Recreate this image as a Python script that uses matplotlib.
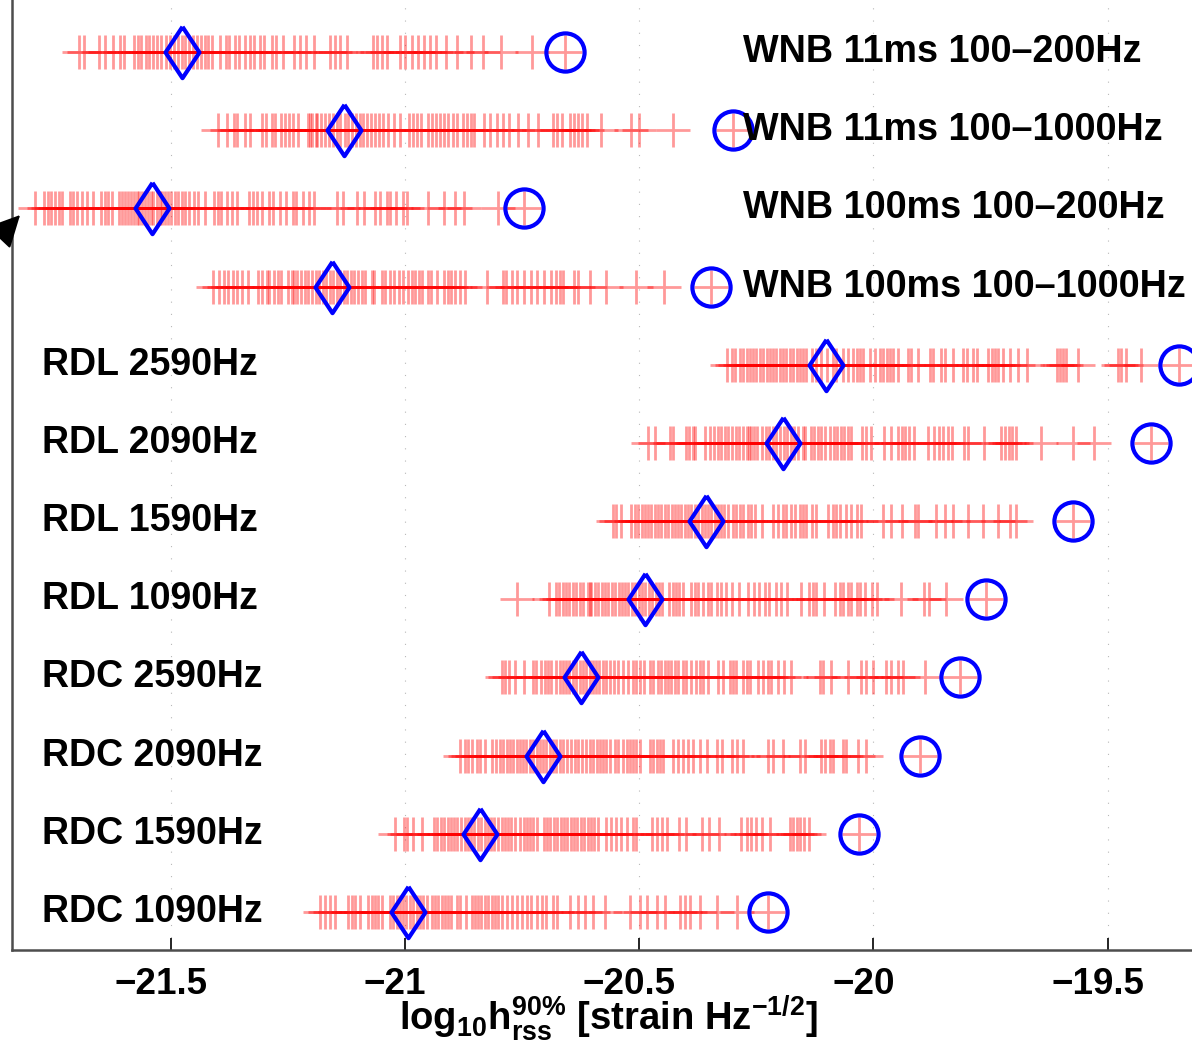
import numpy as np
import matplotlib
matplotlib.use("Agg")
import matplotlib.pyplot as plt
from matplotlib.transforms import ScaledTranslation

plt.rcParams['font.family'] = ['Liberation Sans', 'DejaVu Sans']
plt.rcParams['font.weight'] = 'bold'
plt.rcParams['mathtext.fontset'] = 'custom'
plt.rcParams['mathtext.rm'] = 'Liberation Sans:bold'
plt.rcParams['mathtext.it'] = 'Liberation Sans:bold'
plt.rcParams['mathtext.bf'] = 'Liberation Sans:bold'

# row labels, top to bottom
labels = ['WNB 11ms 100\u2013200Hz', 'WNB 11ms 100\u20131000Hz',
          'WNB 100ms 100\u2013200Hz', 'WNB 100ms 100\u20131000Hz',
          'RDL 2590Hz', 'RDL 2090Hz', 'RDL 1590Hz', 'RDL 1090Hz',
          'RDC 2590Hz', 'RDC 2090Hz', 'RDC 1590Hz', 'RDC 1090Hz']

# log10 hrss90 per trial (red + marks)
wnb11_200 = [-21.697, -21.686, -21.653, -21.641, -21.624, -21.608, -21.599, -21.579,
             -21.570, -21.563, -21.554, -21.547, -21.538, -21.530, -21.521, -21.510,
             -21.502, -21.494, -21.485, -21.477, -21.469, -21.461, -21.453, -21.445,
             -21.436, -21.427, -21.420, -21.411, -21.395, -21.383, -21.375, -21.363,
             -21.355, -21.342, -21.330, -21.322, -21.310, -21.302, -21.283, -21.276,
             -21.261, -21.236, -21.225, -21.212, -21.195, -21.161, -21.150, -21.138,
             -21.123, -21.069, -21.060, -21.049, -21.039, -21.011, -21.000, -20.985,
             -20.973, -20.960, -20.946, -20.934, -20.913, -20.890, -20.859, -20.834,
             -20.796, -20.729]
wnb11_1000 = [-21.399, -21.379, -21.366, -21.358, -21.342, -21.330, -21.305, -21.297,
              -21.285, -21.277, -21.264, -21.256, -21.248, -21.240, -21.228, -21.207,
              -21.203, -21.199, -21.191, -21.187, -21.179, -21.170, -21.162, -21.154,
              -21.146, -21.138, -21.129, -21.121, -21.113, -21.105, -21.097, -21.089,
              -21.081, -21.072, -21.064, -21.056, -21.048, -21.036, -21.023, -21.011,
              -20.991, -20.982, -20.974, -20.966, -20.950, -20.942, -20.934, -20.925,
              -20.917, -20.909, -20.897, -20.889, -20.876, -20.868, -20.860, -20.852,
              -20.832, -20.819, -20.803, -20.791, -20.778, -20.758, -20.737, -20.717,
              -20.684, -20.676, -20.664, -20.648, -20.639, -20.631, -20.623, -20.611,
              -20.582, -20.517, -20.501, -20.427]
wnb100_200 = [-21.789, -21.770, -21.762, -21.755, -21.747, -21.739, -21.732, -21.716,
              -21.709, -21.701, -21.690, -21.678, -21.667, -21.648, -21.640, -21.633,
              -21.625, -21.610, -21.604, -21.598, -21.591, -21.585, -21.579, -21.573,
              -21.567, -21.561, -21.555, -21.549, -21.543, -21.537, -21.530, -21.524,
              -21.518, -21.512, -21.506, -21.499, -21.492, -21.484, -21.476, -21.469,
              -21.461, -21.450, -21.442, -21.427, -21.408, -21.400, -21.393, -21.381,
              -21.370, -21.358, -21.332, -21.324, -21.316, -21.305, -21.290, -21.282,
              -21.267, -21.255, -21.240, -21.233, -21.217, -21.206, -21.194, -21.145,
              -21.133, -21.103, -21.088, -21.065, -21.053, -21.038, -21.031, -21.019,
              -21.004, -20.996, -20.951, -20.916, -20.893, -20.874, -20.802]
wnb100_1000 = [-21.409, -21.397, -21.386, -21.378, -21.367, -21.359, -21.348, -21.336,
               -21.313, -21.306, -21.294, -21.290, -21.279, -21.271, -21.264, -21.249,
               -21.241, -21.237, -21.230, -21.222, -21.214, -21.207, -21.199, -21.191,
               -21.184, -21.176, -21.169, -21.161, -21.153, -21.146, -21.138, -21.130,
               -21.123, -21.115, -21.108, -21.100, -21.092, -21.085, -21.070, -21.066,
               -21.050, -21.043, -21.031, -21.024, -21.012, -21.005, -20.993, -20.986,
               -20.978, -20.970, -20.963, -20.951, -20.944, -20.932, -20.917, -20.909,
               -20.902, -20.894, -20.883, -20.871, -20.826, -20.791, -20.784, -20.772,
               -20.761, -20.746, -20.730, -20.719, -20.704, -20.688, -20.677, -20.669,
               -20.662, -20.639, -20.631, -20.605, -20.570, -20.506, -20.448]
rdl2590 = [-20.312, -20.303, -20.296, -20.285, -20.278, -20.271, -20.264, -20.257,
           -20.250, -20.243, -20.235, -20.228, -20.221, -20.214, -20.207, -20.200,
           -20.193, -20.186, -20.179, -20.171, -20.164, -20.157, -20.150, -20.143,
           -20.132, -20.122, -20.111, -20.100, -20.086, -20.079, -20.065, -20.054,
           -20.043, -20.036, -20.029, -20.022, -20.008, -19.997, -19.986, -19.979,
           -19.972, -19.965, -19.958, -19.947, -19.926, -19.919, -19.905, -19.880,
           -19.873, -19.855, -19.848, -19.830, -19.809, -19.801, -19.787, -19.780,
           -19.755, -19.748, -19.741, -19.734, -19.723, -19.709, -19.691, -19.673,
           -19.609, -19.602, -19.595, -19.588, -19.563, -19.478, -19.471, -19.460,
           -19.428]
rdl2090 = [-20.481, -20.466, -20.435, -20.428, -20.401, -20.393, -20.386, -20.382,
           -20.359, -20.348, -20.340, -20.332, -20.325, -20.317, -20.310, -20.302,
           -20.294, -20.287, -20.279, -20.271, -20.266, -20.262, -20.256, -20.249,
           -20.237, -20.230, -20.222, -20.214, -20.207, -20.199, -20.192, -20.184,
           -20.176, -20.169, -20.161, -20.150, -20.146, -20.134, -20.127, -20.119,
           -20.111, -20.104, -20.092, -20.085, -20.077, -20.070, -20.062, -20.054,
           -20.047, -20.024, -20.016, -20.005, -19.978, -19.963, -19.948, -19.940,
           -19.932, -19.925, -19.913, -19.883, -19.871, -19.860, -19.852, -19.841,
           -19.833, -19.807, -19.799, -19.765, -19.727, -19.719, -19.711, -19.704,
           -19.696, -19.643, -19.574, -19.529]
rdl1590 = [-20.557, -20.549, -20.538, -20.517, -20.510, -20.502, -20.495, -20.488,
           -20.481, -20.474, -20.467, -20.460, -20.453, -20.446, -20.438, -20.431,
           -20.424, -20.417, -20.410, -20.403, -20.396, -20.389, -20.382, -20.374,
           -20.367, -20.360, -20.353, -20.346, -20.339, -20.332, -20.325, -20.318,
           -20.310, -20.300, -20.293, -20.285, -20.278, -20.268, -20.261, -20.253,
           -20.239, -20.214, -20.204, -20.193, -20.186, -20.175, -20.168, -20.157,
           -20.150, -20.143, -20.132, -20.122, -20.097, -20.086, -20.079, -20.072,
           -20.058, -20.047, -20.036, -20.026, -19.980, -19.962, -19.940, -19.912,
           -19.905, -19.866, -19.848, -19.830, -19.798, -19.766, -19.734, -19.709,
           -19.695]
rdl1090 = [-20.762, -20.692, -20.678, -20.671, -20.663, -20.656, -20.649, -20.642,
           -20.635, -20.627, -20.620, -20.609, -20.606, -20.602, -20.595, -20.588,
           -20.580, -20.573, -20.566, -20.559, -20.552, -20.544, -20.537, -20.530,
           -20.523, -20.516, -20.508, -20.501, -20.494, -20.487, -20.480, -20.472,
           -20.465, -20.458, -20.451, -20.436, -20.429, -20.422, -20.415, -20.407,
           -20.389, -20.382, -20.375, -20.364, -20.353, -20.346, -20.335, -20.325,
           -20.314, -20.303, -20.288, -20.267, -20.256, -20.245, -20.231, -20.224,
           -20.209, -20.198, -20.184, -20.155, -20.137, -20.130, -20.123, -20.105,
           -20.083, -20.072, -20.065, -20.054, -20.047, -20.036, -20.029, -20.018,
           -20.004, -19.993, -19.942, -19.892, -19.881, -19.845]
rdc2590 = [-20.794, -20.787, -20.777, -20.766, -20.745, -20.727, -20.720, -20.709,
           -20.702, -20.695, -20.688, -20.677, -20.670, -20.663, -20.656, -20.649,
           -20.641, -20.634, -20.627, -20.620, -20.613, -20.606, -20.599, -20.592,
           -20.585, -20.577, -20.570, -20.563, -20.553, -20.545, -20.535, -20.524,
           -20.513, -20.506, -20.498, -20.489, -20.478, -20.471, -20.460, -20.453,
           -20.446, -20.439, -20.432, -20.424, -20.417, -20.407, -20.400, -20.389,
           -20.378, -20.371, -20.364, -20.353, -20.332, -20.321, -20.307, -20.300,
           -20.293, -20.279, -20.271, -20.264, -20.247, -20.236, -20.225, -20.218,
           -20.204, -20.190, -20.175, -20.115, -20.108, -20.090, -20.054, -20.026,
           -20.015, -20.001, -19.973, -19.962, -19.948, -19.937, -19.891]
rdc2090 = [-20.882, -20.872, -20.865, -20.858, -20.847, -20.840, -20.830, -20.815,
           -20.805, -20.798, -20.790, -20.783, -20.776, -20.769, -20.762, -20.755,
           -20.748, -20.741, -20.734, -20.726, -20.719, -20.712, -20.705, -20.698,
           -20.691, -20.684, -20.677, -20.670, -20.662, -20.655, -20.645, -20.638,
           -20.630, -20.623, -20.613, -20.606, -20.598, -20.591, -20.584, -20.577,
           -20.570, -20.563, -20.552, -20.545, -20.534, -20.527, -20.520, -20.513,
           -20.506, -20.499, -20.477, -20.470, -20.463, -20.456, -20.449, -20.428,
           -20.417, -20.406, -20.396, -20.385, -20.371, -20.356, -20.335, -20.324,
           -20.303, -20.292, -20.278, -20.225, -20.214, -20.193, -20.157, -20.147,
           -20.111, -20.104, -20.093, -20.086, -20.065, -20.058, -20.033, -20.015]
rdc1590 = [-21.021, -21.003, -20.996, -20.982, -20.964, -20.938, -20.931, -20.924,
           -20.917, -20.908, -20.902, -20.895, -20.888, -20.881, -20.873, -20.866,
           -20.859, -20.852, -20.845, -20.837, -20.830, -20.823, -20.816, -20.809,
           -20.801, -20.794, -20.787, -20.780, -20.773, -20.765, -20.755, -20.747,
           -20.740, -20.733, -20.726, -20.718, -20.704, -20.697, -20.690, -20.682,
           -20.675, -20.668, -20.661, -20.654, -20.646, -20.639, -20.632, -20.625,
           -20.618, -20.610, -20.603, -20.596, -20.589, -20.571, -20.560, -20.549,
           -20.538, -20.527, -20.513, -20.506, -20.473, -20.462, -20.452, -20.441,
           -20.416, -20.401, -20.365, -20.351, -20.329, -20.282, -20.271, -20.261,
           -20.250, -20.239, -20.221, -20.178, -20.171, -20.163, -20.156, -20.149,
           -20.138]
rdc1090 = [-21.182, -21.171, -21.160, -21.150, -21.121, -21.114, -21.107, -21.096,
           -21.078, -21.071, -21.064, -21.057, -21.050, -21.032, -21.025, -21.018,
           -21.011, -21.004, -20.997, -20.990, -20.982, -20.975, -20.968, -20.961,
           -20.954, -20.943, -20.936, -20.929, -20.922, -20.915, -20.908, -20.901,
           -20.890, -20.883, -20.869, -20.858, -20.851, -20.844, -20.837, -20.829,
           -20.822, -20.815, -20.808, -20.801, -20.794, -20.783, -20.772, -20.762,
           -20.751, -20.740, -20.730, -20.719, -20.708, -20.698, -20.684, -20.676,
           -20.648, -20.630, -20.616, -20.598, -20.573, -20.520, -20.499, -20.484,
           -20.463, -20.445, -20.413, -20.403, -20.392, -20.371, -20.335, -20.292]

trials = [wnb11_200, wnb11_1000, wnb100_200, wnb100_1000,
          rdl2590, rdl2090, rdl1590, rdl1090,
          rdc2590, rdc2090, rdc1590, rdc1090]

# blue diamonds (median) and blue circles (upper limit)
medians = [-21.477, -21.131, -21.540, -21.155, -20.102, -20.194,
           -20.357, -20.487, -20.624, -20.706, -20.839, -20.993]
uppers = [-20.658, -20.300, -20.745, -20.346, -19.348, -19.407,
          -19.573, -19.759, -19.815, -19.900, -20.030, -20.225]

xticks = [-21.5, -21.0, -20.5, -20.0, -19.5]
xticklabels = ['\u221221.5', '\u221221', '\u221220.5', '\u221220', '\u221219.5']

# matlab style diamond, a bit wider than matplotlib's 'd'
diamond = [(0, 1), (0.66, 0), (0, -1), (-0.66, 0), (0, 1)]

fig = plt.figure(figsize=(11.92, 10.48), dpi=100)
ax = fig.add_axes([12/1192, 98/1048, 1180/1192, 950/1048])

n = len(labels)
for i in range(n):
    y = n - i
    xs = trials[i] + [uppers[i]]
    ax.plot(xs, [y]*len(xs), '+', color='red', alpha=0.4, ms=24, mew=2.0)
    ax.plot(medians[i], y, marker=diamond, ls='none', mfc='none', mec='blue', ms=37, mew=3)
    ax.plot(uppers[i], y, 'o', mfc='none', mec='blue', ms=27.5, mew=3)
    if labels[i].startswith('WNB'):
        ax.text(-20.279, y, labels[i], fontsize=27.2, fontweight='bold', va='center', ha='left')
    else:
        ax.text(-21.775, y, labels[i], fontsize=27, fontweight='bold', va='center', ha='left')

ax.set_xlim(-21.839, -19.32)
ax.set_ylim(0.514, 12.665)
ax.set_xticks(xticks)
ax.set_xticklabels(xticklabels, fontsize=26.5, fontweight='bold')
ax.set_yticks([])
ax.tick_params(axis='x', direction='in', length=9, width=1.2, pad=12)
# matlab puts the tick labels a little left of the ticks
shift = ScaledTranslation(-10/100, 0, fig.dpi_scale_trans)
for lab in ax.get_xticklabels():
    lab.set_transform(lab.get_transform() + shift)
ax.grid(axis='x', color='0.72', linestyle=(0, (1, 10)), linewidth=0.8)
ax.set_axisbelow(True)
for s in ['top', 'right']:
    ax.spines[s].set_visible(False)
for s in ['left', 'bottom']:
    ax.spines[s].set_linewidth(1.8)
    ax.spines[s].set_color('0.3')

fig.text(608/1192, 1 - 1030/1048,
         r'$\mathrm{log}_{\mathrm{10}}\mathrm{h}^{\mathrm{90\%}}_{\mathrm{rss}}$ [strain Hz$^{\mathrm{-1/2}}$]',
         fontsize=27.5, fontweight='bold', ha='center', va='baseline')

# arrow coming in from the left edge
ax.annotate('', xy=(22/1192, 1 - 213/1048), xycoords='figure fraction',
            xytext=(-30/1192, 1 - 268/1048), textcoords='figure fraction',
            arrowprops=dict(arrowstyle='-|>', color='black', lw=1.5, mutation_scale=50),
            annotation_clip=False)

fig.savefig('out.png', dpi=100)
